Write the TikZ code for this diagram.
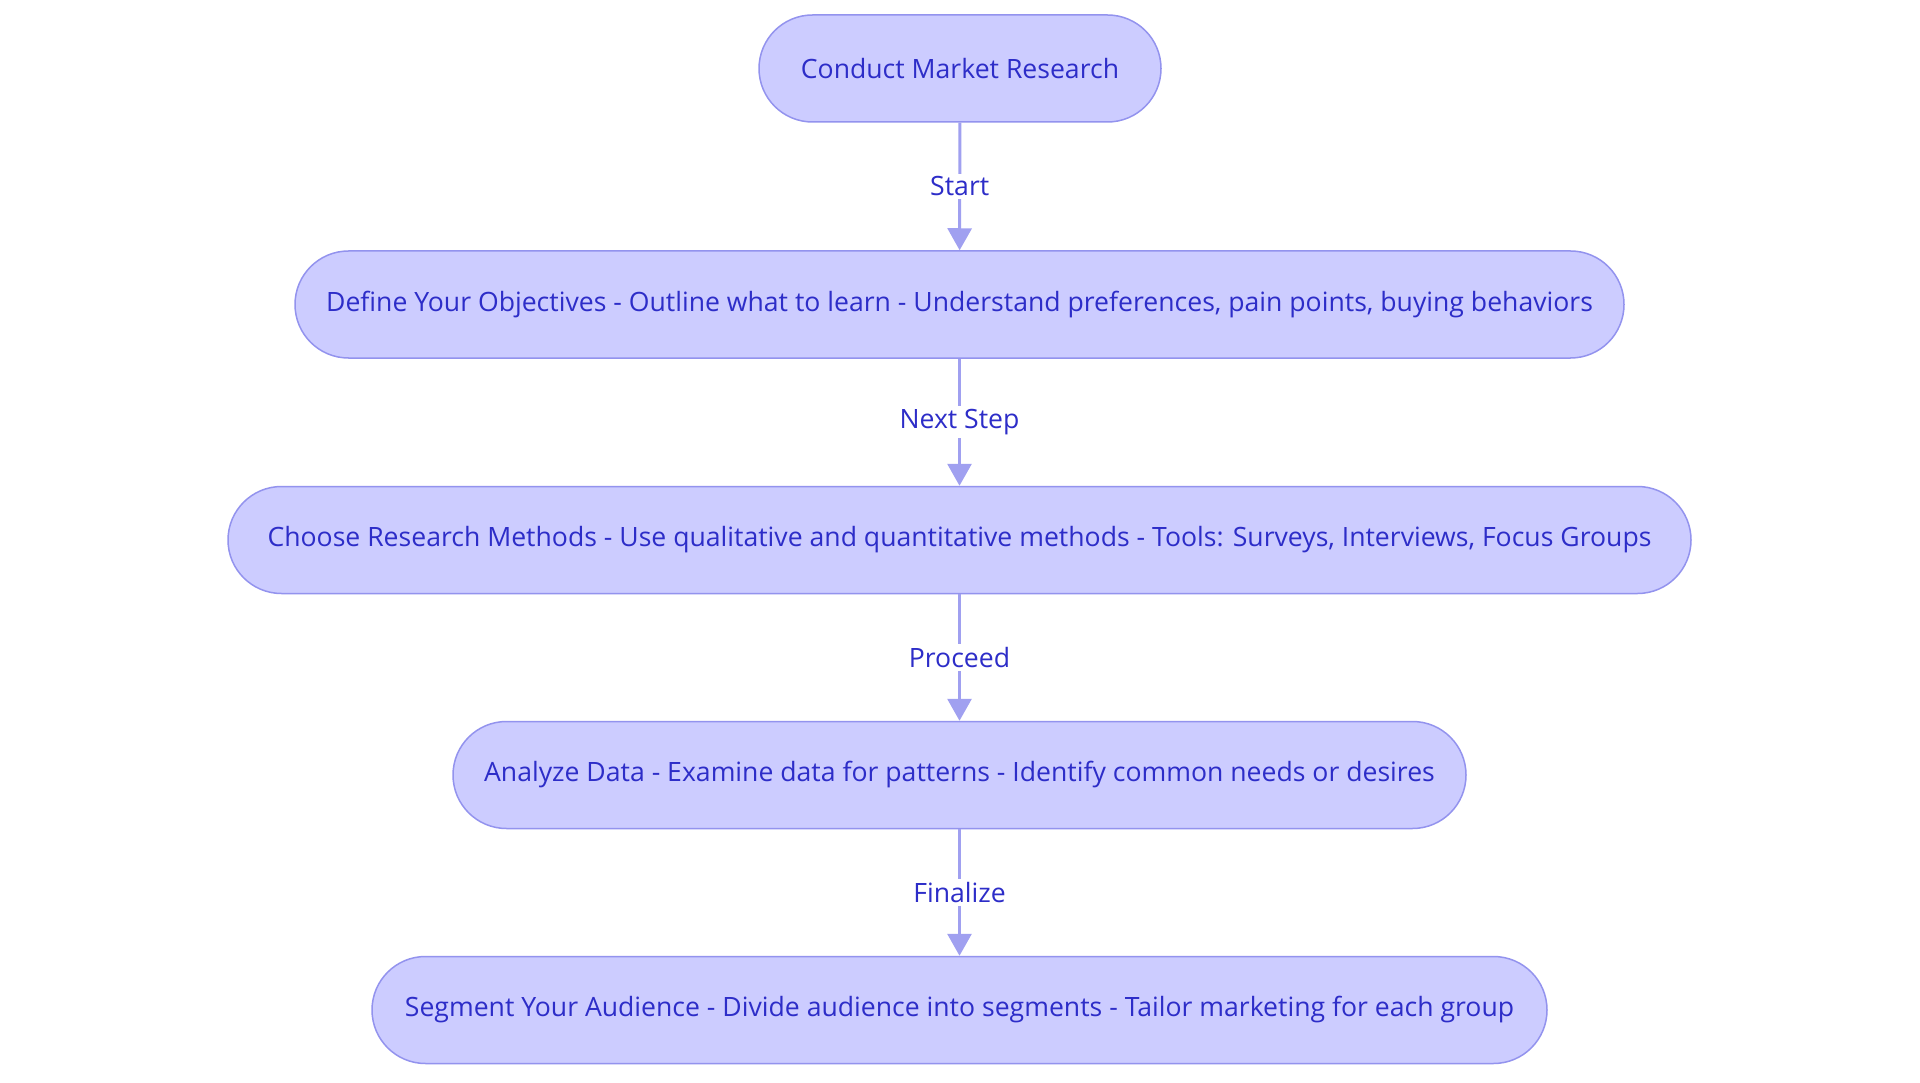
\documentclass[tikz,border=0pt]{standalone}
\usepackage{fontspec}
\setmainfont{Open Sans}
\usetikzlibrary{arrows.meta}
\definecolor{nodefill}{RGB}{204,204,255}
\definecolor{nodeborder}{RGB}{147,147,238}
\definecolor{linkcol}{RGB}{160,160,240}
\definecolor{textcol}{RGB}{45,45,200}
\begin{document}
\begin{tikzpicture}[x=1pt,y=-1pt,
  stepbox/.style={draw=nodeborder, line width=1.5pt, fill=nodefill, rounded corners=53.5pt,
    minimum height=107pt, text=textcol, font=\fontsize{26.6}{32}\selectfont, inner sep=0pt},
  link/.style={draw=linkcol, line width=3pt, -{Triangle[width=24pt,length=22pt]}},
  lbl/.style={fill=white, text=textcol, font=\fontsize{26.6}{32}\selectfont, inner sep=3pt}]
\fill[white] (0,0) rectangle (1920,1083);
\useasboundingbox (0,0) rectangle (1920,1083);
\node[stepbox, minimum width=402pt] (n1) at (960,68.5) {Conduct Market Research};
\node[stepbox, minimum width=1329pt] (n2) at (959.5,304.5) {Define Your Objectives - Outline what to learn - Understand preferences, pain points, buying behaviors};
\node[stepbox, minimum width=1463pt] (n3) at (959.5,540) {Choose Research Methods - Use qualitative and quantitative methods - Tools: Surveys, Interviews, Focus Groups};
\node[stepbox, minimum width=1013pt] (n4) at (959.5,775) {Analyze Data - Examine data for patterns - Identify common needs or desires};
\node[stepbox, minimum width=1175pt] (n5) at (959.5,1010) {Segment Your Audience - Divide audience into segments - Tailor marketing for each group};
\draw[link] (n1) -- (n2) node[midway, lbl] (l1) {Start};
\draw[link] (n2) -- (n3) node[midway, lbl] (l2) {Next Step};
\draw[link] (n3) -- (n4) node[midway, lbl] (l3) {Proceed};
\draw[link] (n4) -- (n5) node[midway, lbl] (l4) {Finalize};
\end{tikzpicture}
\end{document}
